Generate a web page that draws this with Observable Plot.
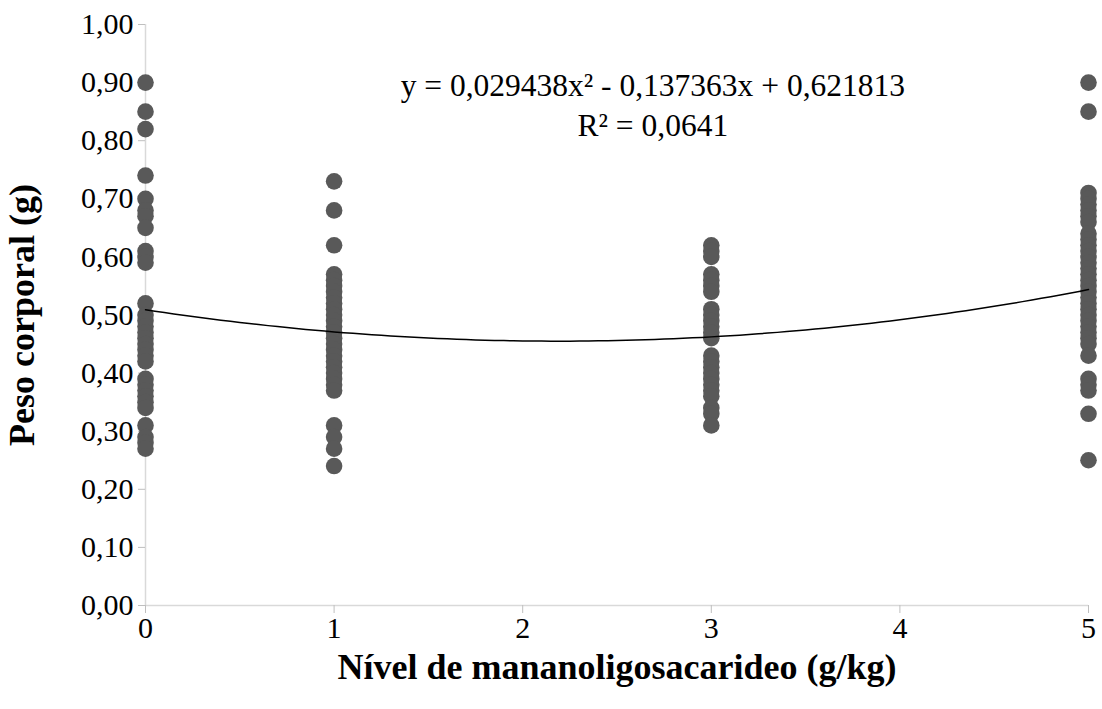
<!DOCTYPE html>
<html>
<head>
<meta charset="utf-8">
<script src="https://cdn.jsdelivr.net/npm/d3@7"></script>
<script src="https://cdn.jsdelivr.net/npm/@observablehq/plot@0.6"></script>
<style>
  html, body { margin: 0; padding: 0; background: #fff; }
  #chart { width: 1102px; height: 709px; }
  #chart g[aria-label="y-axis tick label"],
  #chart g[aria-label="x-axis tick label"] { font-size: 30px; fill: #000; }
</style>
</head>
<body>
<div id="chart"></div>
<script>
// Levels of mannan-oligosaccharide (g/kg)
const levels = [0, 1, 3, 5];

// Body weight observations (g) per level
const peso0 = [0.90, 0.85, 0.82, 0.74, 0.70, 0.68, 0.67, 0.65, 0.61, 0.60, 0.59, 0.52, 0.50, 0.49, 0.48, 0.47, 0.46, 0.45, 0.44, 0.43, 0.42, 0.39, 0.38, 0.37, 0.36, 0.35, 0.34, 0.31, 0.29, 0.28, 0.27];
const peso1 = [0.73, 0.68, 0.62, 0.57, 0.56, 0.55, 0.54, 0.53, 0.52, 0.51, 0.50, 0.49, 0.48, 0.47, 0.46, 0.45, 0.44, 0.43, 0.42, 0.41, 0.40, 0.39, 0.38, 0.37, 0.31, 0.29, 0.27, 0.24];
const peso3 = [0.62, 0.61, 0.60, 0.57, 0.56, 0.55, 0.54, 0.51, 0.50, 0.49, 0.48, 0.47, 0.46, 0.43, 0.42, 0.41, 0.40, 0.39, 0.38, 0.37, 0.36, 0.34, 0.33, 0.31];
const peso5 = [0.90, 0.85, 0.71, 0.70, 0.69, 0.68, 0.67, 0.66, 0.64, 0.63, 0.62, 0.61, 0.60, 0.59, 0.58, 0.57, 0.56, 0.55, 0.54, 0.53, 0.52, 0.51, 0.50, 0.49, 0.48, 0.47, 0.46, 0.45, 0.43, 0.39, 0.38, 0.37, 0.33, 0.25];

// Polynomial trend line as drawn (c0, c1, c2)
const trendCoef = [0.509, -0.0493, 0.01125];

const yTicks = [0, 0.1, 0.2, 0.3, 0.4, 0.5, 0.6, 0.7, 0.8, 0.9, 1.0];
const xTicks = [0, 1, 2, 3, 4, 5];

const equationText = "y = 0,029438x² - 0,137363x + 0,621813";
const r2Text = "R² = 0,0641";
const xTitle = "Nível de mananoligosacarideo (g/kg)";
const yTitle = "Peso corporal (g)";

// Build table
const groups = [peso0, peso1, peso3, peso5];
const points = [];
groups.forEach((arr, i) => arr.forEach(v => points.push({x: levels[i], y: v})));

const trend = d3.range(0, 5.0001, 0.05).map(x => ({x, y: trendCoef[0] + trendCoef[1] * x + trendCoef[2] * x * x}));

const fmt = d => d.toFixed(2).replace(".", ",");
const font = "'Liberation Serif', 'Times New Roman', serif";

const chart = Plot.plot({
  width: 1102,
  height: 709,
  marginLeft: 145,
  marginRight: 14,
  marginTop: 24,
  marginBottom: 104,
  style: { fontFamily: font, fontSize: "30px", color: "#000", background: "#fff" },
  x: { domain: [0, 5] },
  y: { domain: [0, 1] },
  marks: [
    Plot.ruleX([0], { stroke: "#d9d9d9", strokeWidth: 1.5 }),
    Plot.ruleY([0], { stroke: "#d9d9d9", strokeWidth: 1.5 }),
    Plot.axisY({ ticks: yTicks, tickFormat: fmt, tickSize: 7, stroke: "#bfbfbf", tickPadding: 5, label: null, fontSize: 30, fill: "#000" }),
    Plot.axisX({ ticks: xTicks, tickFormat: d => String(d), tickSize: 8, stroke: "#bfbfbf", tickPadding: 3, label: null, fontSize: 30, fill: "#000" }),
    Plot.dot(points, { x: "x", y: "y", r: 8.3, fill: "#595959", stroke: "none" }),
    Plot.line(trend, { x: "x", y: "y", stroke: "#000", strokeWidth: 1.5 }),
    Plot.text([equationText], { x: 2.69, y: 0.895, text: d => d, fontSize: 31.5, textAnchor: "middle", fill: "#000" }),
    Plot.text([r2Text], { x: 2.69, y: 0.826, text: d => d, fontSize: 31.5, textAnchor: "middle", fill: "#000" }),
    Plot.text([xTitle], { frameAnchor: "bottom", dy: 62, lineAnchor: "middle", textAnchor: "middle", text: d => d, fontSize: 36, fontWeight: "bold", fill: "#000" }),
    Plot.text([yTitle], { frameAnchor: "left", dx: -123, rotate: -90, textAnchor: "middle", lineAnchor: "middle", text: d => d, fontSize: 36, fontWeight: "bold", fill: "#000" })
  ]
});

document.getElementById("chart").appendChild(chart);
</script>
</body>
</html>
